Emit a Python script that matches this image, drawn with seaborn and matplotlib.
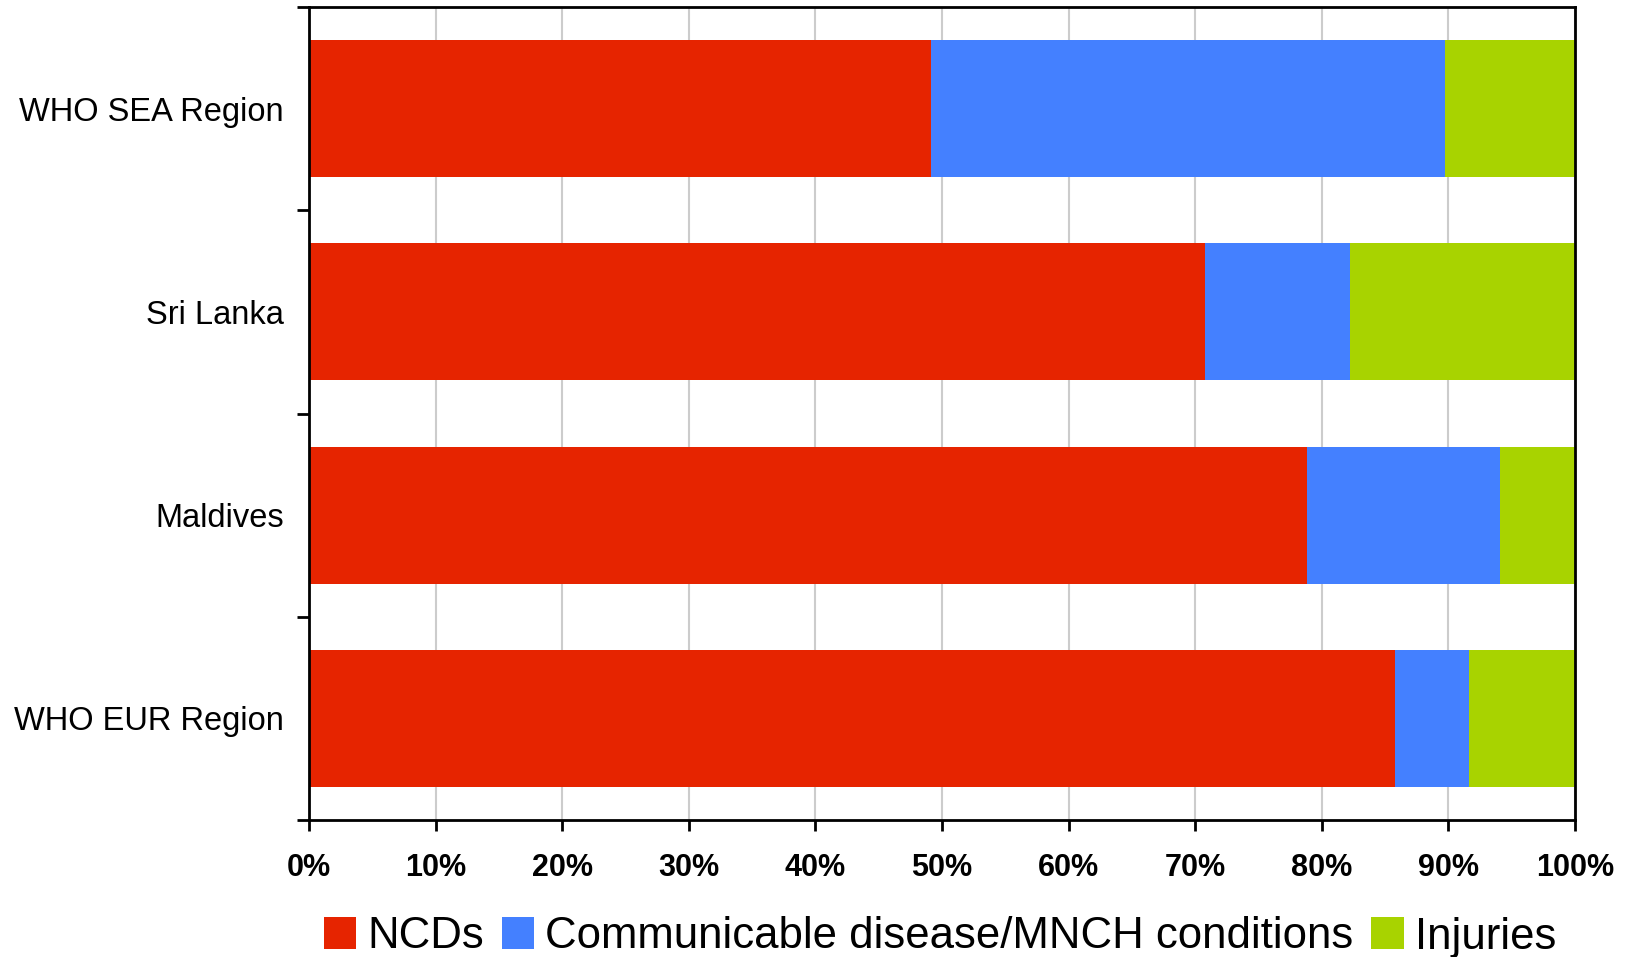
import matplotlib
matplotlib.use("Agg")
import matplotlib.pyplot as plt
import pandas as pd
import seaborn as sns
from matplotlib.patches import Patch
from matplotlib.ticker import FixedLocator, PercentFormatter

regions = ["WHO SEA Region", "Sri Lanka", "Maldives", "WHO EUR Region"]
ncds = [49.1, 70.8, 78.8, 85.8]
communicable = [40.6, 11.4, 15.3, 5.8]
injuries = [10.3, 17.8, 5.9, 8.4]

series_names = ["NCDs", "Communicable disease/MNCH conditions", "Injuries"]
COLORS = ["#E62400", "#4480FF", "#A8D300"]

df = pd.DataFrame({"region": regions, "ncds": ncds,
                   "communicable": communicable, "injuries": injuries})
df["lvl1"] = df["ncds"]
df["lvl2"] = df["ncds"] + df["communicable"]
df["lvl3"] = df["lvl2"] + df["injuries"]

sns.set_theme(style="white")
plt.rcParams["font.family"] = ["Liberation Sans", "DejaVu Sans"]
plt.rcParams["text.color"] = "black"
plt.rcParams["xtick.color"] = "black"
plt.rcParams["ytick.color"] = "black"

fig = plt.figure(figsize=(16.31, 9.57), dpi=100)
ax = fig.add_axes([309 / 1631, 1 - 820 / 957, 1266 / 1631, 813 / 957])

# stacked look: draw cumulative totals from widest to narrowest
for col, color in zip(["lvl3", "lvl2", "lvl1"], COLORS[::-1]):
    sns.barplot(data=df, y="region", x=col, order=regions, color=color,
                width=0.675, saturation=1, linewidth=0, ax=ax, orient="h")

ax.set_xlim(0, 100)
ax.set_ylim(3.5, -0.5)
ax.set_xlabel("")
ax.set_ylabel("")
ax.set_xticks(range(0, 101, 10))
ax.xaxis.set_major_formatter(PercentFormatter(decimals=0))
ax.grid(axis="x", color="#CCCCCC", linewidth=1.5)
ax.set_axisbelow(True)

for s in ax.spines.values():
    s.set_color("black")
    s.set_linewidth(2)

ax.tick_params(axis="x", bottom=True, length=8, width=2, color="black",
               labelcolor="black", labelsize=22, pad=16)
for lab in ax.get_xticklabels():
    lab.set_fontweight("bold")
ax.tick_params(axis="y", which="major", left=False, length=0,
               labelcolor="black", labelsize=23.5, pad=18)
ax.yaxis.set_minor_locator(FixedLocator([-0.5, 0.5, 1.5, 2.5, 3.5]))
ax.tick_params(axis="y", which="minor", left=True, length=9, width=2,
               color="black")

handles = [Patch(facecolor=c, edgecolor="none", label=n)
           for c, n in zip(COLORS, series_names)]
leg = fig.legend(handles=handles, loc="center", ncol=3, frameon=False,
                 bbox_to_anchor=(940 / 1631, 1 - 937 / 957), fontsize=31.5,
                 handlelength=0.75, handleheight=0.75, handletextpad=0.25,
                 columnspacing=0.4, borderaxespad=0)
for t in leg.get_texts():
    t.set_color("black")

fig.savefig("out.png", dpi=100)
